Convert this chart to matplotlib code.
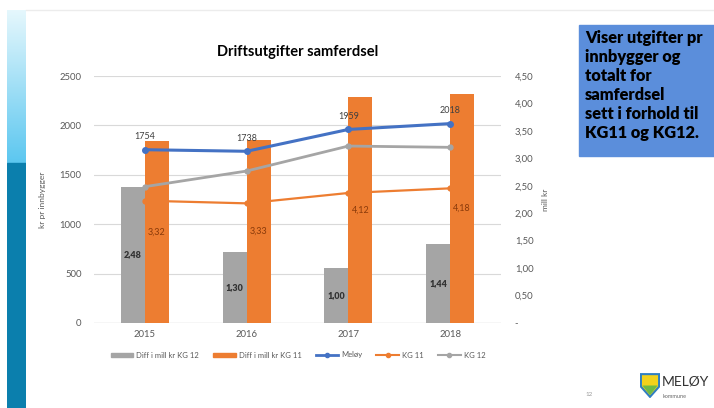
import matplotlib.pyplot as plt
import matplotlib.patches as mpatches
from matplotlib.lines import Line2D
import numpy as np

plt.rcParams['font.family'] = ['Lato', 'DejaVu Sans']

# data
years = ['2015', '2016', '2017', '2018']
diff_kg12 = [2.48, 1.30, 1.00, 1.44]      # mill kr
diff_kg11 = [3.32, 3.33, 4.12, 4.18]      # mill kr
meloy = [1754, 1738, 1959, 2018]          # kr pr innbygger
kg11 = [1238, 1211, 1316, 1363]
kg12 = [1380, 1538, 1791, 1778]
left_ticks = [0, 500, 1000, 1500, 2000, 2500]
right_ticks = [0, 0.5, 1.0, 1.5, 2.0, 2.5, 3.0, 3.5, 4.0, 4.5]

c_gray = '#a5a5a5'
c_orange = '#ed7d31'
c_blue = '#4472c4'
c_txt = '#595959'

W, H = 714, 408
fig = plt.figure(figsize=(W / 100, H / 100), dpi=100)

def rect(x0, y0, x1, y1):
    return [x0 / W, 1 - y1 / H, (x1 - x0) / W, (y1 - y0) / H]

# slide decoration: left bar
deco = fig.add_axes(rect(7, 10, 26, 408))
grad = np.linspace(0, 1, 200).reshape(-1, 1)
deco.imshow(np.dstack([
    np.interp(grad, [0, 1], [0.90, 0.36]),
    np.interp(grad, [0, 1], [0.97, 0.78]),
    np.interp(grad, [0, 1], [0.99, 0.94])]),
    extent=[0, 1, 163, 10], aspect='auto')
deco.add_patch(mpatches.Rectangle((0, 163), 1, 245, color='#0b7fad'))
deco.set_xlim(0, 1)
deco.set_ylim(408, 10)
deco.axis('off')
fig.add_artist(Line2D([26 / W, 1], [1 - 10 / H, 1 - 10 / H], color='#ececec', lw=1))

# blue text box
fig.add_artist(mpatches.Rectangle((579 / W, 1 - 156 / H), (W - 579) / W, 131 / H,
                                  color='#5b8edb', transform=fig.transFigure))
box_lines = ['Viser utgifter pr', 'innbygger og', 'totalt for', 'samferdsel',
             'sett i forhold til', 'KG11 og KG12.']
for i, t in enumerate(box_lines):
    fig.text(585 / W, 1 - (38 + i * 19) / H, t, fontsize=11.8, fontweight='heavy',
             color='black', va='center', ha='left')

# logo + page number
fig.text(585 / W, 1 - 395 / H, '12', fontsize=4.5, color='#999999', va='center')
logo = fig.add_axes(rect(640, 373, 660, 398))
shield = mpatches.Polygon([[0, 1], [1, 1], [1, 0.45], [0.5, 0], [0, 0.45]],
                          closed=True, fc='#f2d21b', ec='#2f7fc1', lw=1.5)
logo.add_patch(shield)
logo.add_patch(mpatches.Polygon([[0.08, 0.5], [0.92, 0.5], [0.5, 0.08]], fc='#6dbb45'))
logo.set_xlim(-0.05, 1.05)
logo.set_ylim(-0.05, 1.05)
logo.axis('off')
fig.text(662 / W, 1 - 382 / H, 'MELØY', fontsize=10, color='#333333', va='center')
fig.text(663 / W, 1 - 396 / H, 'kommune', fontsize=4, color='#666666', va='center')

# chart
ax_b = fig.add_axes(rect(94, 76, 501, 323))
ax_l = ax_b.twinx()
x = np.arange(len(years))
bw = 0.235

for t in left_ticks:
    ax_b.axhline(t / left_ticks[-1] * right_ticks[-1], color='#d9d9d9', lw=0.8, zorder=0)

b1 = ax_b.bar(x - bw / 2, diff_kg12, bw, color=c_gray, zorder=2)
b2 = ax_b.bar(x + bw / 2, diff_kg11, bw, color=c_orange, zorder=2)
for xi, v in zip(x, diff_kg12):
    ax_b.text(xi - bw / 2, v / 2, f'{v:.2f}'.replace('.', ','), ha='center', va='center',
              fontsize=6.5, fontweight='heavy', color='#333333', zorder=3)
for xi, v in zip(x, diff_kg11):
    ax_b.text(xi + bw / 2, v / 2, f'{v:.2f}'.replace('.', ','), ha='center', va='center',
              fontsize=6.5, color='#8a3a0a', zorder=3)

ax_l.plot(x, kg12, color=c_gray, lw=2, marker='o', ms=3.5)
ax_l.plot(x, kg11, color=c_orange, lw=1.6, marker='o', ms=3.5)
ax_l.plot(x, meloy, color=c_blue, lw=2.2, marker='o', ms=4)
for xi, v in zip(x, meloy):
    ax_l.annotate(str(v), (xi, v), xytext=(0, 6), textcoords='offset points',
                  ha='center', va='bottom', fontsize=6.5, color='#404040')

ax_b.set_xlim(-0.5, len(years) - 0.5)
ax_b.set_ylim(0, right_ticks[-1])
ax_l.set_ylim(0, left_ticks[-1])
ax_b.set_xticks(x)
ax_b.set_xticklabels(years)
ax_b.set_yticks(right_ticks)
ax_b.set_yticklabels(['-'] + [f'{v:.2f}'.replace('.', ',') for v in right_ticks[1:]])
ax_l.set_yticks(left_ticks)

ax_b.yaxis.tick_right()
ax_b.yaxis.set_label_position('right')
ax_l.yaxis.tick_left()
ax_l.yaxis.set_label_position('left')
ax_b.tick_params(axis='x', length=0, labelsize=6.8, labelcolor=c_txt, pad=5)
ax_b.tick_params(axis='y', length=0, labelsize=6.8, labelcolor=c_txt, pad=10)
ax_l.tick_params(axis='y', length=0, labelsize=6.8, labelcolor=c_txt, pad=9)
for a in (ax_b, ax_l):
    for s in a.spines.values():
        s.set_visible(False)
ax_b.axhline(0, color='#d0d0d0', lw=0.9, zorder=1)

ax_l.set_ylabel('kr pr innbygger', fontsize=6, color=c_txt, labelpad=10)
ax_b.set_ylabel('mill kr', fontsize=6, color=c_txt, labelpad=6)

fig.text(298 / W, 1 - 52 / H, 'Driftsutgifter samferdsel', fontsize=10.5, fontweight='bold',
         ha='center', va='center', color='black')

handles = [mpatches.Patch(color=c_gray, label='Diff i mill kr KG 12'),
           mpatches.Patch(color=c_orange, label='Diff i mill kr KG 11'),
           Line2D([], [], color=c_blue, lw=2, marker='o', ms=3, label='Meløy'),
           Line2D([], [], color=c_orange, lw=1.5, marker='o', ms=3, label='KG 11'),
           Line2D([], [], color=c_gray, lw=1.5, marker='o', ms=3, label='KG 12')]
fig.legend(handles=handles, loc='center', bbox_to_anchor=(298 / W, 1 - 355 / H), ncol=5,
           frameon=False, fontsize=5.5, labelcolor=c_txt, handlelength=3, handleheight=0.5,
           columnspacing=1.8, handletextpad=0.4)

fig.savefig('out.png', dpi=100)
